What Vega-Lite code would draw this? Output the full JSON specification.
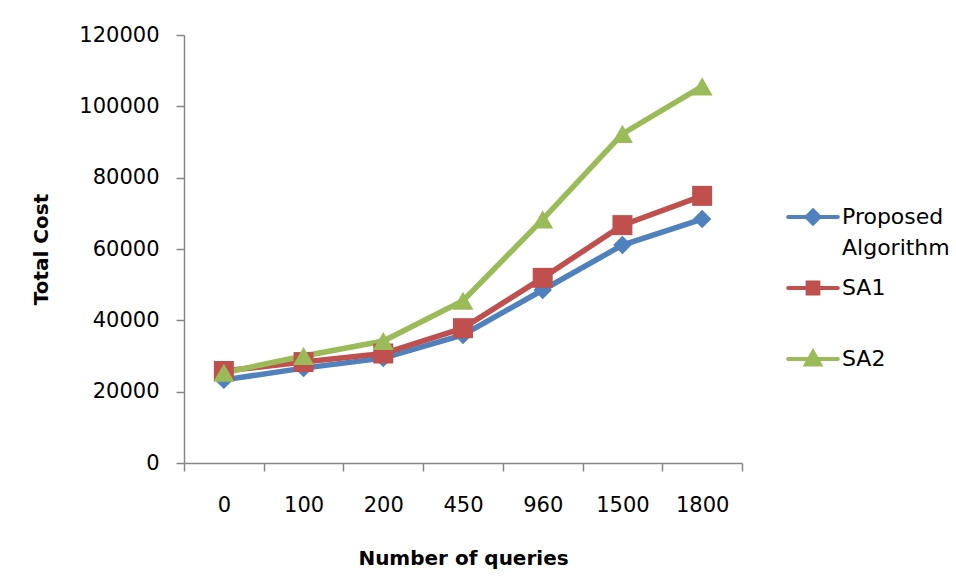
{
  "$schema": "https://vega.github.io/schema/vega-lite/v6.json",
  "width": 558,
  "height": 428,
  "autosize": "none",
  "padding": {"left": 184, "top": 35, "right": 214, "bottom": 117},
  "background": "white",
  "config": {
    "view": {"stroke": null},
    "font": "DejaVu Sans",
    "axis": {
      "domainColor": "#868686",
      "domainWidth": 1.5,
      "tickColor": "#868686",
      "tickWidth": 1.5,
      "tickSize": 8,
      "grid": false,
      "labelColor": "black",
      "labelFont": "DejaVu Sans",
      "labelFontSize": 21,
      "titleColor": "black",
      "titleFont": "DejaVu Sans",
      "titleFontSize": 20,
      "titleFontWeight": "bold"
    }
  },
  "data": {
    "values": [
      {"series": "Proposed Algorithm", "queries": "0", "cost": 23300},
      {"series": "Proposed Algorithm", "queries": "100", "cost": 26600},
      {"series": "Proposed Algorithm", "queries": "200", "cost": 29400},
      {"series": "Proposed Algorithm", "queries": "450", "cost": 35900},
      {"series": "Proposed Algorithm", "queries": "960", "cost": 48500},
      {"series": "Proposed Algorithm", "queries": "1500", "cost": 61100},
      {"series": "Proposed Algorithm", "queries": "1800", "cost": 68400},
      {"series": "SA1", "queries": "0", "cost": 25800},
      {"series": "SA1", "queries": "100", "cost": 28300},
      {"series": "SA1", "queries": "200", "cost": 30700},
      {"series": "SA1", "queries": "450", "cost": 37800},
      {"series": "SA1", "queries": "960", "cost": 51900},
      {"series": "SA1", "queries": "1500", "cost": 66700},
      {"series": "SA1", "queries": "1800", "cost": 74900},
      {"series": "SA2", "queries": "0", "cost": 25300},
      {"series": "SA2", "queries": "100", "cost": 30000},
      {"series": "SA2", "queries": "200", "cost": 34200},
      {"series": "SA2", "queries": "450", "cost": 45500},
      {"series": "SA2", "queries": "960", "cost": 68300},
      {"series": "SA2", "queries": "1500", "cost": 92300},
      {"series": "SA2", "queries": "1800", "cost": 105600}
    ]
  },
  "encoding": {
    "x": {
      "field": "queries",
      "type": "ordinal",
      "sort": ["0", "100", "200", "450", "960", "1500", "1800"],
      "scale": {"type": "band", "paddingInner": 0, "paddingOuter": 0},
      "axis": {
        "title": "Number of queries",
        "labelAngle": 0,
        "tickBand": "extent",
        "labelPadding": 23,
        "titlePadding": 33
      }
    },
    "y": {
      "field": "cost",
      "type": "quantitative",
      "scale": {"domain": [0, 120000], "nice": false},
      "axis": {
        "title": "Total Cost",
        "values": [0, 20000, 40000, 60000, 80000, 100000, 120000],
        "format": "d",
        "labelPadding": 17,
        "titlePadding": 27
      }
    },
    "color": {
      "field": "series",
      "type": "nominal",
      "scale": {
        "domain": ["Proposed Algorithm", "SA1", "SA2"],
        "range": ["#4F81BD", "#C0504D", "#9BBB59"]
      },
      "legend": {
        "orient": "none",
        "legendX": 600,
        "legendY": 153,
        "title": null,
        "padding": 0,
        "labelFont": "DejaVu Sans",
        "labelFontSize": 22,
        "labelColor": "black",
        "labelLimit": 300,
        "labelOffset": 0,
        "symbolSize": 2916,
        "symbolStrokeWidth": 4,
        "rowPadding": -1,
        "labelExpr": "datum.label == 'Proposed Algorithm' ? ['Proposed', 'Algorithm'] : [datum.label, ' ']",
        "encode": {
          "symbols": {
            "update": {
              "shape": {"signal": "datum.value == 'Proposed Algorithm' ? 'M-0.92,0L0.92,0M0,-0.24L0.24,0L0,0.24L-0.24,0Z' : datum.value == 'SA1' ? 'M-0.92,0L0.92,0M-0.2,-0.2L0.2,-0.2L0.2,0.2L-0.2,0.2Z' : 'M-0.92,0L0.92,0M0,-0.26L0.26,0.2L-0.26,0.2Z'"},
              "size": {"value": 2916},
              "fill": {"scale": "color", "field": "value"},
              "stroke": {"scale": "color", "field": "value"},
              "strokeWidth": {"value": 4},
              "strokeCap": {"value": "round"},
              "opacity": {"value": 1}
            }
          },
          "labels": {
            "update": {
              "lineHeight": {"value": 31}
            }
          }
        }
      }
    }
  },
  "layer": [
    {"mark": {"type": "line", "strokeWidth": 5.5}},
    {
      "transform": [{"filter": "datum.series == 'Proposed Algorithm'"}],
      "mark": {"type": "point", "filled": true, "opacity": 1, "shape": "diamond", "size": 340}
    },
    {
      "transform": [{"filter": "datum.series == 'SA1'"}],
      "mark": {"type": "point", "filled": true, "opacity": 1, "shape": "square", "size": 400}
    },
    {
      "transform": [{"filter": "datum.series == 'SA2'"}],
      "mark": {"type": "point", "filled": true, "opacity": 1, "shape": "triangle-up", "size": 440}
    }
  ]
}
